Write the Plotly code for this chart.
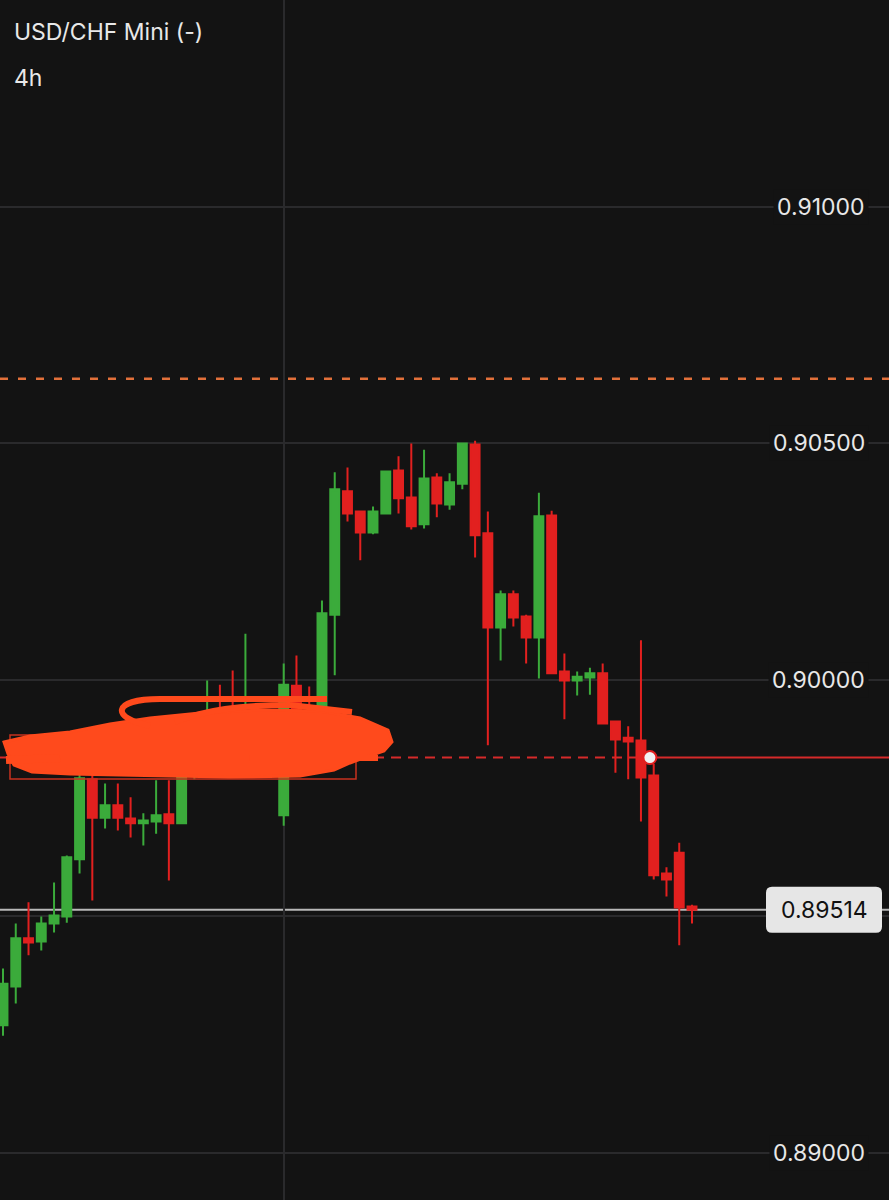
import plotly.graph_objects as go

# ---------------- data ----------------
candle_index = list(range(55))
opens = [0.89270, 0.89352, 0.89454, 0.89447, 0.89485, 0.89500, 0.89621, 0.89790, 0.89709, 0.89735,
         0.89707, 0.89697, 0.89701, 0.89716, 0.89697, 0.89800, 0.89850, 0.89930, 0.89925, 0.89880,
         0.89920, 0.89880, 0.89714, 0.89988, 0.89917, 0.89883, 0.90138, 0.90399, 0.90356, 0.90312,
         0.90352, 0.90443, 0.90386, 0.90329, 0.90428, 0.90371, 0.90415, 0.90498, 0.90310, 0.90111,
         0.90181, 0.90134, 0.90090, 0.90348, 0.90018, 0.89999, 0.90005, 0.90014, 0.89912, 0.89878,
         0.89872, 0.89798, 0.89591, 0.89635, 0.89521]
highs = [0.89390, 0.89485, 0.89530, 0.89500, 0.89572, 0.89629, 0.89809, 0.89804, 0.89781, 0.89781,
         0.89752, 0.89718, 0.89788, 0.89788, 0.89830, 0.89870, 0.89999, 0.89990, 0.90020, 0.90098,
         0.89931, 0.89920, 0.90035, 0.90052, 0.89986, 0.90168, 0.90439, 0.90449, 0.90356, 0.90367,
         0.90443, 0.90473, 0.90500, 0.90487, 0.90437, 0.90437, 0.90502, 0.90506, 0.90356, 0.90189,
         0.90189, 0.90138, 0.90396, 0.90358, 0.90056, 0.90018, 0.90026, 0.90035, 0.89912, 0.89902,
         0.90084, 0.89823, 0.89604, 0.89656, 0.89525]
lows = [0.89248, 0.89316, 0.89418, 0.89428, 0.89466, 0.89487, 0.89591, 0.89534, 0.89686, 0.89682,
        0.89667, 0.89650, 0.89675, 0.89576, 0.89697, 0.89790, 0.89830, 0.89860, 0.89860, 0.89860,
        0.89850, 0.89860, 0.89692, 0.89883, 0.89872, 0.89862, 0.90010, 0.90335, 0.90253, 0.90308,
        0.90350, 0.90352, 0.90318, 0.90320, 0.90344, 0.90360, 0.90403, 0.90259, 0.89862, 0.90041,
        0.90113, 0.90035, 0.90003, 0.90012, 0.89917, 0.89967, 0.89969, 0.89906, 0.89804, 0.89790,
        0.89701, 0.89578, 0.89542, 0.89439, 0.89485]
closes = [0.89358, 0.89454, 0.89445, 0.89485, 0.89502, 0.89625, 0.89792, 0.89709, 0.89735, 0.89709,
          0.89697, 0.89703, 0.89714, 0.89697, 0.89800, 0.89850, 0.89930, 0.89880, 0.89880, 0.89930,
          0.89880, 0.89900, 0.89990, 0.89904, 0.89889, 0.90141, 0.90403, 0.90352, 0.90312, 0.90356,
          0.90441, 0.90384, 0.90325, 0.90426, 0.90373, 0.90418, 0.90500, 0.90306, 0.90111, 0.90181,
          0.90132, 0.90090, 0.90346, 0.90014, 0.89999, 0.90007, 0.90014, 0.89908, 0.89874, 0.89870,
          0.89794, 0.89587, 0.89578, 0.89519, 0.89514]

tick_values = [0.89000, 0.89500, 0.90000, 0.90500, 0.91000]
tick_labels = ["0.89000", "", "0.90000", "0.90500", "0.91000"]
current_price = 0.89514
current_label = "0.89514"
orange_level = 0.90637
alert_price = 0.89836
alert_index = 50.7
session_break_index = 22
title_text = "USD/CHF Mini (-)"
timeframe_text = "4h"

# ---------------- styling ----------------
W, H = 889, 1200
BG = "#131313"
GREEN = "#3bab3b"
RED = "#e2201f"
GRID = "#2a2a2c"
FONT = "Inter"

ymin, ymax = 0.889006, 0.914376
xmin, xmax = -0.235, 69.44
ppu = H / (ymax - ymin)


def pp(px, py):
    return f"{px / W:.5f},{1 - py / H:.5f}"


def path_from(points, close=True):
    s = "M " + " L ".join(pp(x, y) for x, y in points)
    return s + (" Z" if close else "")


fig = go.Figure()
fig.add_trace(go.Candlestick(
    x=candle_index, open=opens, high=highs, low=lows, close=closes,
    increasing=dict(line=dict(color=GREEN, width=2), fillcolor=GREEN),
    decreasing=dict(line=dict(color=RED, width=2), fillcolor=RED),
    whiskerwidth=0, hoverinfo="skip", showlegend=False,
))

# alert marker
fig.add_trace(go.Scatter(
    x=[alert_index], y=[alert_price], mode="markers",
    marker=dict(size=13, color="#f2f2f2", line=dict(color=RED, width=2)),
    hoverinfo="skip", showlegend=False,
))

shapes = []
# orange dashed level
shapes.append(dict(type="line", xref="paper", yref="y", x0=0, x1=1,
                   y0=orange_level, y1=orange_level,
                   line=dict(color="#e2703a", width=2.5, dash="8px,10px"), layer="below"))
# current price line
shapes.append(dict(type="line", xref="paper", yref="y", x0=0, x1=1,
                   y0=current_price, y1=current_price,
                   line=dict(color="#b8b8b8", width=2), layer="below"))
# alert line: dashed left, solid right
shapes.append(dict(type="line", xref="x", yref="y", x0=xmin, x1=alert_index,
                   y0=alert_price, y1=alert_price,
                   line=dict(color="#d62a2a", width=2, dash="10px,7px"), layer="below"))
shapes.append(dict(type="line", xref="x", yref="y", x0=alert_index, x1=xmax,
                   y0=alert_price, y1=alert_price,
                   line=dict(color="#d62a2a", width=2), layer="below"))

# hand-drawn rectangle and scribble
SCRIB = "#ff4a1c"
shapes.append(dict(type="path", xref="paper", yref="paper",
                   path=path_from([(10, 735), (356, 735), (356, 779), (10, 779)]),
                   line=dict(color="#c8321f", width=1.5), fillcolor="rgba(0,0,0,0)", layer="above"))
blob = [(4, 742), (30, 736), (70, 732), (110, 724), (150, 718), (200, 713), (260, 710), (320, 711),
        (360, 718), (388, 730), (392, 742), (384, 751), (366, 757), (350, 763), (334, 770),
        (300, 776), (230, 777), (170, 776), (120, 775), (70, 774), (32, 772), (14, 765), (8, 754)]
shapes.append(dict(type="path", xref="paper", yref="paper", path=path_from(blob),
                   line=dict(color=SCRIB, width=3), fillcolor=SCRIB, layer="above"))
shapes.append(dict(type="path", xref="paper", yref="paper",
                   path=f"M {pp(150, 726)} C {pp(110, 718)} {pp(112, 699)} {pp(160, 699)} L {pp(327, 699)}",
                   line=dict(color=SCRIB, width=6), layer="above"))
shapes.append(dict(type="path", xref="paper", yref="paper",
                   path=f"M {pp(175, 722)} C {pp(205, 710)} {pp(240, 705)} {pp(290, 705)} L {pp(352, 712)}",
                   line=dict(color=SCRIB, width=6), layer="above"))
shapes.append(dict(type="path", xref="paper", yref="paper",
                   path=f"M {pp(300, 748)} L {pp(384, 748)}",
                   line=dict(color=SCRIB, width=7), layer="above"))
shapes.append(dict(type="path", xref="paper", yref="paper",
                   path=f"M {pp(250, 758)} L {pp(378, 758)}",
                   line=dict(color=SCRIB, width=6), layer="above"))
shapes.append(dict(type="path", xref="paper", yref="paper",
                   path=f"M {pp(6, 760)} L {pp(60, 758)}",
                   line=dict(color=SCRIB, width=8), layer="above"))

# current price label box (rounded)
bx0, bx1 = 766 / W, 882 / W
hh = 23 / ppu
r_x, r_y = 6 / W, 6 / ppu
y0b, y1b = current_price - hh, current_price + hh
box_path = (f"M {bx0 + r_x},{y0b} L {bx1 - r_x},{y0b} Q {bx1},{y0b} {bx1},{y0b + r_y} "
            f"L {bx1},{y1b - r_y} Q {bx1},{y1b} {bx1 - r_x},{y1b} "
            f"L {bx0 + r_x},{y1b} Q {bx0},{y1b} {bx0},{y1b - r_y} "
            f"L {bx0},{y0b + r_y} Q {bx0},{y0b} {bx0 + r_x},{y0b} Z")
shapes.append(dict(type="path", xref="paper", yref="y", path=box_path,
                   line=dict(color="#e6e6e6", width=0), fillcolor="#e6e6e6", layer="above"))

annotations = []
for v, t in zip(tick_values, tick_labels):
    if t:
        annotations.append(dict(xref="paper", yref="y", x=869 / W, y=v, text=t,
                                xanchor="right", yanchor="middle", showarrow=False,
                                bgcolor=BG, borderpad=3,
                                font=dict(family=FONT, size=23, color="#e8e8e8")))
annotations.append(dict(xref="paper", yref="y", x=(bx0 + bx1) / 2, y=current_price,
                        text=current_label, xanchor="center", yanchor="middle", showarrow=False,
                        font=dict(family=FONT, size=23, color="#111111")))
annotations.append(dict(xref="paper", yref="paper", x=12 / W, y=1 - 32 / H, text=title_text,
                        xanchor="left", yanchor="middle", showarrow=False,
                        font=dict(family=FONT, size=23, color="#e8e8e8")))
annotations.append(dict(xref="paper", yref="paper", x=12 / W, y=1 - 78 / H, text=timeframe_text,
                        xanchor="left", yanchor="middle", showarrow=False,
                        font=dict(family=FONT, size=23, color="#e8e8e8")))

fig.update_layout(
    width=W, height=H, margin=dict(l=0, r=0, t=0, b=0),
    paper_bgcolor=BG, plot_bgcolor=BG,
    shapes=shapes, annotations=annotations, boxgap=0.0,
    xaxis=dict(range=[xmin, xmax], rangeslider=dict(visible=False), showticklabels=False,
               tickvals=[session_break_index], showgrid=True, gridcolor=GRID, gridwidth=2,
               zeroline=False, showline=False, ticks=""),
    yaxis=dict(range=[ymin, ymax], tickvals=tick_values, showticklabels=False,
               showgrid=True, gridcolor=GRID, gridwidth=2, zeroline=False, showline=False, ticks=""),
    hovermode=False,
)

fig.write_html("out.html", config={"displayModeBar": False},
               post_script="document.body.style.margin='0';document.body.style.background='#131313';")
